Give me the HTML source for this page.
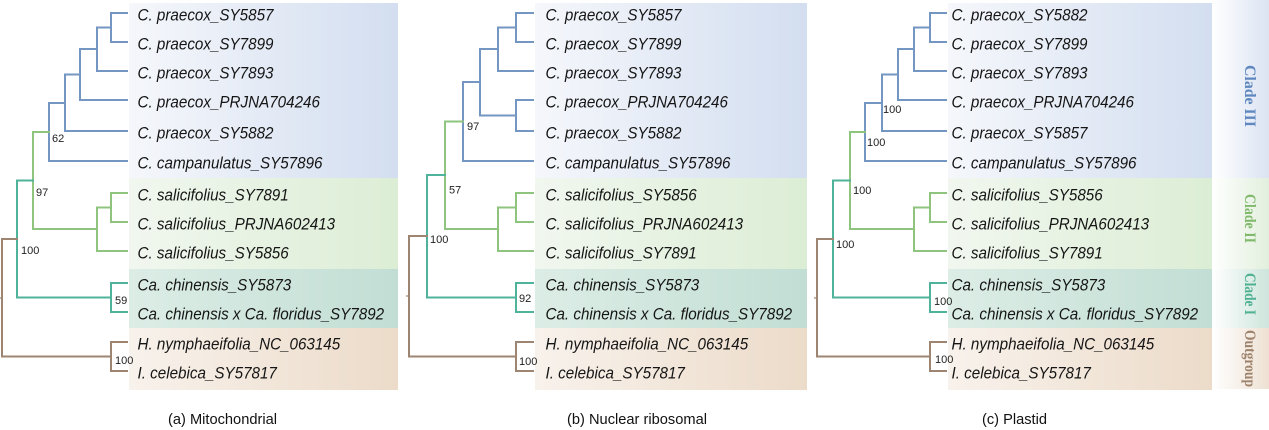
<!DOCTYPE html>
<html><head><meta charset="utf-8"><style>
html,body{margin:0;padding:0;background:#fff;}
svg{display:block;}
.lf{font-family:"Liberation Sans",Arial,sans-serif;font-style:italic;font-size:15.2px;fill:#151515;}
.bs{font-family:"Liberation Sans",Arial,sans-serif;font-size:11px;fill:#222;}
.tt{font-family:"Liberation Sans",Arial,sans-serif;font-size:14.6px;fill:#111;}
.cl{font-family:"Liberation Serif","Times New Roman",serif;font-size:16px;font-weight:bold;}
</style></head><body>
<svg width="1269" height="430" viewBox="0 0 1269 430" xmlns="http://www.w3.org/2000/svg">
<defs>
<linearGradient id="gB"><stop offset="0" stop-color="#f5f7fb"/><stop offset="1" stop-color="#d3def0"/></linearGradient>
<linearGradient id="gG"><stop offset="0" stop-color="#f1f7ef"/><stop offset="1" stop-color="#dcedd5"/></linearGradient>
<linearGradient id="gT"><stop offset="0" stop-color="#dcede6"/><stop offset="1" stop-color="#c2ded4"/></linearGradient>
<linearGradient id="gO"><stop offset="0" stop-color="#f8f2ec"/><stop offset="1" stop-color="#ecdbc9"/></linearGradient>
<linearGradient id="sB"><stop offset="0" stop-color="#ffffff"/><stop offset="1" stop-color="#dbe3f2"/></linearGradient>
<linearGradient id="sG"><stop offset="0" stop-color="#ffffff"/><stop offset="1" stop-color="#e2efdd"/></linearGradient>
<linearGradient id="sT"><stop offset="0" stop-color="#ffffff"/><stop offset="1" stop-color="#cde5dc"/></linearGradient>
<linearGradient id="sO"><stop offset="0" stop-color="#ffffff"/><stop offset="1" stop-color="#eee1d3"/></linearGradient>
</defs>

<!-- bands panel a -->
<rect x="129" y="3" width="269" height="175" fill="url(#gB)"/>
<rect x="129" y="178" width="269" height="91" fill="url(#gG)"/>
<rect x="129" y="269" width="269" height="59" fill="url(#gT)"/>
<rect x="129" y="328" width="269" height="62" fill="url(#gO)"/>
<!-- bands panel b -->
<rect x="535" y="3" width="272" height="175" fill="url(#gB)"/>
<rect x="535" y="178" width="272" height="91" fill="url(#gG)"/>
<rect x="535" y="269" width="272" height="59" fill="url(#gT)"/>
<rect x="535" y="328" width="272" height="62" fill="url(#gO)"/>
<!-- bands panel c -->
<rect x="948" y="3" width="264" height="175" fill="url(#gB)"/>
<rect x="948" y="178" width="264" height="91" fill="url(#gG)"/>
<rect x="948" y="269" width="264" height="59" fill="url(#gT)"/>
<rect x="948" y="328" width="264" height="62" fill="url(#gO)"/>
<!-- strip -->
<rect x="1212" y="0" width="57" height="178" fill="url(#sB)"/>
<rect x="1212" y="178" width="57" height="91" fill="url(#sG)"/>
<rect x="1212" y="269" width="57" height="59" fill="url(#sT)"/>
<rect x="1212" y="328" width="57" height="61" fill="url(#sO)"/>

<g fill="none" stroke-width="2" stroke-linecap="square">
<!-- panel a -->
<path stroke="#7396c3" d="M111,13H127M111,42H127M111,13V42M97,27.5H111M97,71H127M97,27.5V71M80,49H97M80,100H127M80,49V100M65,74.5H80M65,131H127M65,74.5V131M49,103H65M49,161H127M49,103V161"/>
<path stroke="#8fc47f" d="M33,132H49M33,132V229M33,229H97M111,193H127M111,222H127M111,193V222M97,207.5H111M97,251H127M97,207.5V251"/>
<path stroke="#4fb39b" d="M17,180.5H33M17,180.5V297.5M17,297.5H111M111,283H127M111,312H127M111,283V312"/>
<path stroke="#9e8572" d="M2,239H17M2,239V356.5M2,356.5H111M111,342H127M111,371H127M111,342V371"/>
<!-- panel b -->
<path stroke="#7396c3" d="M516,13H533M516,42H533M516,13V42M498,27.5H516M498,71H533M498,27.5V71M516,100H533M516,131H533M516,100V131M480,49H498M480,115.5H516M480,49V115.5M463,82H480M463,161H533M463,82V161"/>
<path stroke="#8fc47f" d="M445,121.5H463M445,121.5V229M445,229H498M516,193H533M516,222H533M516,193V222M498,207.5H516M498,251H533M498,207.5V251"/>
<path stroke="#4fb39b" d="M427,175H445M427,175V297.5M427,297.5H516M516,283H533M516,312H533M516,283V312"/>
<path stroke="#9e8572" d="M409,236H427M409,236V356.5M409,356.5H516M516,342H533M516,371H533M516,342V371"/>
<!-- panel c -->
<path stroke="#7396c3" d="M930,13H946M930,42H946M930,13V42M914,27.5H930M914,71H946M914,27.5V71M898,49H914M898,100H946M898,49V100M882,74.5H898M882,131H946M882,74.5V131M865,103H882M865,161H946M865,103V161"/>
<path stroke="#8fc47f" d="M850,132H865M850,132V229M850,229H914M930,193H946M930,222H946M930,193V222M914,207.5H930M914,251H946M914,207.5V251"/>
<path stroke="#4fb39b" d="M833,180.5H850M833,180.5V297.5M833,297.5H930M930,283H946M930,312H946M930,283V312"/>
<path stroke="#9e8572" d="M817,239H833M817,239V356.5M817,356.5H930M930,342H946M930,371H946M930,342V371"/>
</g>
<g stroke="#9e8572" stroke-width="1.2">
<line x1="0" y1="298" x2="2" y2="298"/>
<line x1="406" y1="296" x2="409" y2="296"/>
<line x1="814" y1="298" x2="817" y2="298"/>
</g>

<!-- leaf labels panel a -->
<g class="lf">
<text transform="translate(137.5,20.5) scale(1,1.07)">C. praecox_SY5857</text>
<text transform="translate(137.5,49.5) scale(1,1.07)">C. praecox_SY7899</text>
<text transform="translate(137.5,78.5) scale(1,1.07)">C. praecox_SY7893</text>
<text transform="translate(137.5,107.5) scale(1,1.07)">C. praecox_PRJNA704246</text>
<text transform="translate(137.5,138.5) scale(1,1.07)">C. praecox_SY5882</text>
<text transform="translate(137.5,168.5) scale(1,1.07)">C. campanulatus_SY57896</text>
<text transform="translate(137.5,200.5) scale(1,1.07)">C. salicifolius_SY7891</text>
<text transform="translate(137.5,229.5) scale(1,1.07)">C. salicifolius_PRJNA602413</text>
<text transform="translate(137.5,258.5) scale(1,1.07)">C. salicifolius_SY5856</text>
<text transform="translate(137.5,290.5) scale(1,1.07)">Ca. chinensis_SY5873</text>
<text transform="translate(137.5,319.5) scale(1,1.07)">Ca. chinensis x Ca. floridus_SY7892</text>
<text transform="translate(137.5,349.5) scale(1,1.07)">H. nymphaeifolia_NC_063145</text>
<text transform="translate(137.5,378.5) scale(1,1.07)">I. celebica_SY57817</text>
</g>
<!-- leaf labels panel b -->
<g class="lf">
<text transform="translate(545.5,20.5) scale(1,1.07)">C. praecox_SY5857</text>
<text transform="translate(545.5,49.5) scale(1,1.07)">C. praecox_SY7899</text>
<text transform="translate(545.5,78.5) scale(1,1.07)">C. praecox_SY7893</text>
<text transform="translate(545.5,107.5) scale(1,1.07)">C. praecox_PRJNA704246</text>
<text transform="translate(545.5,138.5) scale(1,1.07)">C. praecox_SY5882</text>
<text transform="translate(545.5,168.5) scale(1,1.07)">C. campanulatus_SY57896</text>
<text transform="translate(545.5,200.5) scale(1,1.07)">C. salicifolius_SY5856</text>
<text transform="translate(545.5,229.5) scale(1,1.07)">C. salicifolius_PRJNA602413</text>
<text transform="translate(545.5,258.5) scale(1,1.07)">C. salicifolius_SY7891</text>
<text transform="translate(545.5,290.5) scale(1,1.07)">Ca. chinensis_SY5873</text>
<text transform="translate(545.5,319.5) scale(1,1.07)">Ca. chinensis x Ca. floridus_SY7892</text>
<text transform="translate(545.5,349.5) scale(1,1.07)">H. nymphaeifolia_NC_063145</text>
<text transform="translate(545.5,378.5) scale(1,1.07)">I. celebica_SY57817</text>
</g>
<!-- leaf labels panel c -->
<g class="lf">
<text transform="translate(951.5,20.5) scale(1,1.07)">C. praecox_SY5882</text>
<text transform="translate(951.5,49.5) scale(1,1.07)">C. praecox_SY7899</text>
<text transform="translate(951.5,78.5) scale(1,1.07)">C. praecox_SY7893</text>
<text transform="translate(951.5,107.5) scale(1,1.07)">C. praecox_PRJNA704246</text>
<text transform="translate(951.5,138.5) scale(1,1.07)">C. praecox_SY5857</text>
<text transform="translate(951.5,168.5) scale(1,1.07)">C. campanulatus_SY57896</text>
<text transform="translate(951.5,200.5) scale(1,1.07)">C. salicifolius_SY5856</text>
<text transform="translate(951.5,229.5) scale(1,1.07)">C. salicifolius_PRJNA602413</text>
<text transform="translate(951.5,258.5) scale(1,1.07)">C. salicifolius_SY7891</text>
<text transform="translate(951.5,290.5) scale(1,1.07)">Ca. chinensis_SY5873</text>
<text transform="translate(951.5,319.5) scale(1,1.07)">Ca. chinensis x Ca. floridus_SY7892</text>
<text transform="translate(951.5,349.5) scale(1,1.07)">H. nymphaeifolia_NC_063145</text>
<text transform="translate(951.5,378.5) scale(1,1.07)">I. celebica_SY57817</text>
</g>

<!-- support values -->
<g class="bs">
<text x="52" y="142">62</text>
<text x="36" y="196">97</text>
<text x="21" y="254">100</text>
<text x="115" y="304">59</text>
<text x="115" y="364">100</text>

<text x="467" y="130">97</text>
<text x="449" y="193.5">57</text>
<text x="430" y="243">100</text>
<text x="519" y="302">92</text>
<text x="519" y="365">100</text>

<text x="883" y="113">100</text>
<text x="867" y="146">100</text>
<text x="853" y="194">100</text>
<text x="836" y="248">100</text>
<text x="934" y="305">100</text>
<text x="935" y="363">100</text>
</g>

<!-- clade strip labels -->
<g class="cl" text-anchor="middle">
<text transform="translate(1245,96) rotate(90)" fill="#5f88c0" textLength="62" lengthAdjust="spacingAndGlyphs">Clade III</text>
<text transform="translate(1245,218.5) rotate(90)" fill="#80b96c" textLength="49" lengthAdjust="spacingAndGlyphs">Clade II</text>
<text transform="translate(1245,294) rotate(90)" fill="#4fb092" textLength="42" lengthAdjust="spacingAndGlyphs">Clade I</text>
<text transform="translate(1245,358.5) rotate(90)" fill="#9e836c" textLength="57" lengthAdjust="spacingAndGlyphs">Outgroup</text>
</g>

<!-- titles -->
<g class="tt" text-anchor="middle">
<text x="222.5" y="424" textLength="109" lengthAdjust="spacingAndGlyphs">(a) Mitochondrial</text>
<text x="637" y="424" textLength="140" lengthAdjust="spacingAndGlyphs">(b) Nuclear ribosomal</text>
<text x="1014.5" y="424" textLength="65" lengthAdjust="spacingAndGlyphs">(c) Plastid</text>
</g>
</svg>
</body></html>
